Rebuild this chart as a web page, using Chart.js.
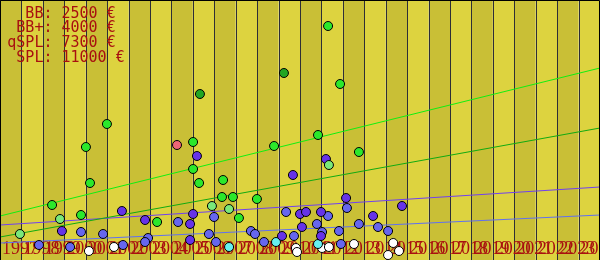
<!DOCTYPE html>
<html>
<head>
<meta charset="utf-8">
<script src="https://cdn.jsdelivr.net/npm/chart.js@4"></script>
<style>
  html, body { margin: 0; padding: 0; background: #fff; }
  canvas { display: block; }
</style>
</head>
<body>
<canvas id="chart" width="600" height="260"></canvas>
<script>
// years shown as bands along the bottom
const yearLabels = ['1997','1998','1999','2000','2001','2002','2003','2004','2005','2006',
  '2007','2008','2009','2010','2011','2012','2013','2014','2015','2016',
  '2017','2018','2019','2020','2021','2022','2023','2024'];

const legendLines = ['  BB: 2500 €', ' BB+: 4000 €', 'qSPL: 7300 €', ' SPL: 11000 €'];

// points as [year, value in k€]
const limePts = [[2012.31,23.4],[2012.87,17.6],[2001.99,13.6],[2001.01,11.3],[2006.01,11.8],
  [2006.01,9.1],[2006.29,7.7],[2001.2,7.7],[1999.43,5.5],[2009.79,11.4],[2011.84,12.5],
  [2013.75,10.8],[2007.41,8.0],[2007.36,6.3],[2007.87,6.3],[2008.99,6.1],[2000.78,4.5],
  [2004.33,3.8],[2008.15,4.2]];
const darkGreenPts = [[2006.33,16.6],[2010.25,18.7]];
const paleGreenPts = [[1999.8,4.1],[1997.93,2.6],[2012.35,9.5],[2006.89,5.4],[2007.69,5.1]];
const pinkPts = [[2005.26,11.5]];
const purplePts = [[2006.19,10.4],[2002.69,4.9],[2012.21,10.1],[2010.67,8.5],[2013.15,6.2],
  [2003.77,4.0],[2005.87,3.6],[2006.01,4.6],[1999.89,2.9],[2005.87,2.0],[2011.0,4.6],
  [2011.28,4.8],[2011.98,4.8],[2014.41,4.4],[2010.16,2.4],[2011.09,3.3],[2011.98,2.4],
  [2015.76,5.4]];
const bluePts = [[2013.19,5.2],[2005.31,3.8],[2000.78,2.8],[2001.81,2.6],[2003.91,2.2],
  [2003.77,1.8],[1998.82,1.5],[2000.27,1.3],[2002.74,1.5],[2006.99,4.3],[2010.35,4.8],
  [2012.31,4.4],[2006.75,2.6],[2008.71,2.9],[2008.9,2.6],[2010.72,2.4],[2011.79,3.6],
  [2012.03,2.8],[2012.82,2.9],[2013.75,3.6],[2014.64,3.3],[2015.11,2.9],[2007.08,1.8],
  [2009.32,1.8],[2012.91,1.6]];
const cyanPts = [[2007.69,1.3],[2009.88,1.8],[2011.84,1.6]];
const whitePts = [[2001.15,0.9],[2002.32,1.3],[2010.81,1.2],[2010.86,0.8],[2012.03,1.2],
  [2012.35,1.3],[2013.52,1.6],[2015.11,0.5],[2015.62,0.9],[2015.35,1.7]];

// trend lines, start and end values
const lineYears = [1997, 2025];
const splLine = [4.4, 19.2];
const qsplLine = [2.3, 13.2];
const bbPlusLine = [3.5, 7.3];
const bbLine = [1.7, 4.5];

const toXY = arr => arr.map(p => ({ x: p[0], y: p[1] }));
const toLine = vals => vals.map((v, i) => ({ x: lineYears[i], y: v }));

const pointSet = (pts, color) => ({
  type: 'scatter',
  data: toXY(pts),
  backgroundColor: color,
  borderColor: '#000',
  borderWidth: 1,
  pointRadius: 4.5,
  order: 1
});
const lineSet = (vals, color) => ({
  type: 'line',
  data: toLine(vals),
  borderColor: color,
  borderWidth: 1,
  pointRadius: 0,
  fill: false,
  order: 2
});

// bands, grid lines, year labels and the price box
const backdrop = {
  id: 'backdrop',
  beforeDatasetsDraw(chart) {
    const { ctx, chartArea: a, scales: { x } } = chart;
    ctx.save();
    yearLabels.forEach((lab, i) => {
      const y0 = +lab;
      const l = x.getPixelForValue(y0), r = x.getPixelForValue(y0 + 1);
      ctx.fillStyle = i % 2 === 0 ? '#c9bf36' : '#ddd33f';
      ctx.fillRect(l, a.top, r - l, a.bottom - a.top);
    });
    ctx.strokeStyle = '#2e2e36';
    ctx.lineWidth = 1;
    yearLabels.forEach(lab => {
      const px = Math.round(x.getPixelForValue(+lab)) + 0.5;
      ctx.beginPath();
      ctx.moveTo(px, a.top);
      ctx.lineTo(px, a.bottom);
      ctx.stroke();
    });
    ctx.fillStyle = '#a81010';
    ctx.font = '18px "Liberation Serif", "DejaVu Serif", serif';
    ctx.textAlign = 'left';
    ctx.textBaseline = 'alphabetic';
    yearLabels.forEach(lab => {
      ctx.fillText(lab, x.getPixelForValue(+lab) + 2, 254);
    });
    ctx.font = '15px "DejaVu Sans Mono", monospace';
    legendLines.forEach((t, i) => ctx.fillText(t, 7.3, 17.7 + i * 14.67));
    ctx.restore();
  },
  afterDraw(chart) {
    const { ctx, chartArea: a } = chart;
    ctx.save();
    ctx.strokeStyle = '#000';
    ctx.lineWidth = 1;
    ctx.beginPath();
    ctx.moveTo(a.left + 0.5, a.bottom);
    ctx.lineTo(a.left + 0.5, a.top + 0.5);
    ctx.lineTo(a.right - 0.5, a.top + 0.5);
    ctx.lineTo(a.right - 0.5, a.bottom);
    ctx.stroke();
    ctx.restore();
  }
};

new Chart(document.getElementById('chart'), {
  data: {
    datasets: [
      pointSet(limePts, '#2be82b'),
      pointSet(darkGreenPts, '#22a622'),
      pointSet(paleGreenPts, '#7ae87a'),
      pointSet(pinkPts, '#ee6677'),
      pointSet(purplePts, '#6633e8'),
      pointSet(bluePts, '#6666ee'),
      pointSet(cyanPts, '#66f0f0'),
      pointSet(whitePts, '#ffffff'),
      lineSet(splLine, '#11ee11'),
      lineSet(qsplLine, '#11aa11'),
      lineSet(bbPlusLine, '#7040f0'),
      lineSet(bbLine, '#6070f0')
    ]
  },
  options: {
    responsive: false,
    animation: false,
    layout: { padding: 0, autoPadding: false },
    plugins: { legend: { display: false }, tooltip: { enabled: false } },
    scales: {
      x: { type: 'linear', min: 1997, max: 2025, display: false },
      y: { type: 'linear', min: 0, max: 26, display: false }
    }
  },
  plugins: [backdrop]
});
</script>
</body>
</html>
